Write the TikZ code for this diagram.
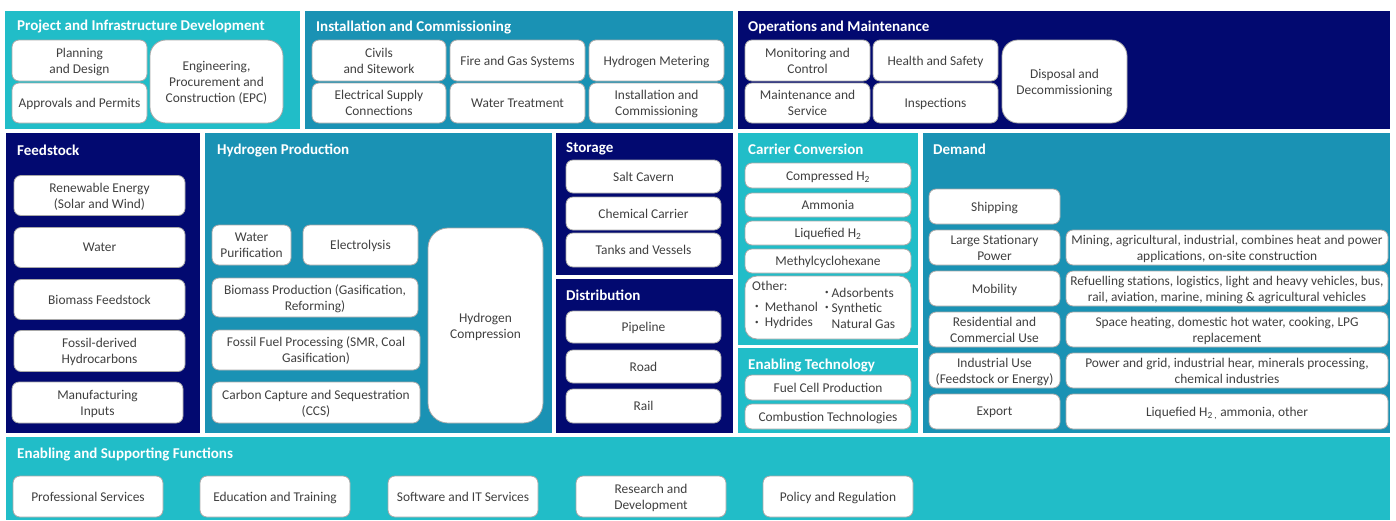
\documentclass[tikz,border=0pt]{standalone}
\usepackage{fontspec}
\setmainfont{Carlito}
\usepackage{tikz}
\usepackage{xcolor}
\definecolor{lightteal}{RGB}{33,189,200}
\definecolor{midteal}{RGB}{26,146,180}
\definecolor{navy}{RGB}{2,9,112}
\definecolor{tileline}{RGB}{168,168,168}
\definecolor{tiletext}{RGB}{64,64,64}

\begin{document}
\begin{tikzpicture}[x=1pt, y=-1pt,
    tile/.style={draw=tileline, line width=0.8pt, fill=white, rounded corners=7pt,
        text=tiletext, align=center, inner sep=0pt, text depth=0pt,
        font=\fontsize{13.4}{16}\selectfont},
    bigtile/.style={tile, rounded corners=16pt},
    note/.style={text=tiletext, inner sep=0pt, anchor=west, align=left,
        font=\fontsize{13.4}{15.5}\selectfont},
    title/.style={text=white, inner sep=0pt, anchor=west,
        font=\bfseries\fontsize{15}{17}\selectfont}]
        \useasboundingbox (0, 0) rectangle (1396, 520);
        % panels
        \path[fill=lightteal] (5, 11) rectangle (300, 129);
        \path[fill=midteal] (305, 11) rectangle (733, 129);
        \path[fill=navy] (738, 11) rectangle (1390, 129);
        \path[fill=navy] (6, 133) rectangle (200, 433);
        \path[fill=midteal] (205, 133) rectangle (552, 433);
        \path[fill=navy] (556, 133) rectangle (733, 275);
        \path[fill=navy] (556, 279) rectangle (733, 433);
        \path[fill=lightteal] (738, 133) rectangle (918, 345);
        \path[fill=lightteal] (738, 348) rectangle (918, 433);
        \path[fill=midteal] (923, 133) rectangle (1390, 433);
        \path[fill=lightteal] (6, 437) rectangle (1390, 520);

        % titles
        \node[title] (tproj) at (17, 27) {Project and Infrastructure Development};
        \node[title] (tinst) at (316, 27) {Installation and Commissioning};
        \node[title] (tom) at (748, 27) {Operations and Maintenance};
        \node[title] (tfeed) at (17, 150) {Feedstock};
        \node[title] (tprod) at (217, 150) {Hydrogen Production};
        \node[title] (tstor) at (566, 149) {Storage};
        \node[title] (tdist) at (566, 295) {Distribution};
        \node[title] (tcarr) at (748, 149) {Carrier Conversion};
        \node[title] (tentech) at (748, 365) {Enabling Technology};
        \node[title] (tdem) at (933, 149) {Demand};
        \node[title] (tesf) at (17, 454) {Enabling and Supporting Functions};

        % project and infrastructure development
        \node[tile, minimum width=135, minimum height=41] (plan) at (79.5, 60.5) {Planning\\and Design};
        \node[tile, minimum width=135, minimum height=40] (appr) at (79.5, 103) {Approvals and Permits};
        \node[bigtile, minimum width=133, minimum height=83] (epc) at (216.5, 81.5) {Engineering,\\Procurement and\\Construction (EPC)};

        % installation and commissioning
        \node[tile, minimum width=134, minimum height=41] (civ) at (379, 60.5) {Civils\\and Sitework};
        \node[tile, minimum width=135, minimum height=41] (fire) at (517.5, 60.5) {Fire and Gas Systems};
        \node[tile, minimum width=135, minimum height=41] (meter) at (656.5, 60.5) {Hydrogen Metering};
        \node[tile, minimum width=134, minimum height=40] (elec) at (379, 103) {Electrical Supply\\Connections};
        \node[tile, minimum width=135, minimum height=40] (wtreat) at (517.5, 103) {Water Treatment};
        \node[tile, minimum width=135, minimum height=40] (icom) at (656.5, 103) {Installation and\\Commissioning};

        % operations and maintenance
        \node[tile, minimum width=125, minimum height=41] (mon) at (807.5, 60.5) {Monitoring and\\Control};
        \node[tile, minimum width=125, minimum height=41] (hs) at (935.5, 60.5) {Health and Safety};
        \node[tile, minimum width=125, minimum height=40] (maint) at (807.5, 103) {Maintenance and\\Service};
        \node[tile, minimum width=125, minimum height=40] (insp) at (935.5, 103) {Inspections};
        \node[bigtile, minimum width=125, minimum height=83] (disp) at (1064.5, 81.5) {Disposal and\\Decommissioning};

        % feedstock
        \node[tile, minimum width=171, minimum height=40] (ren) at (99.5, 195.5) {Renewable Energy\\(Solar and Wind)};
        \node[tile, minimum width=171, minimum height=40] (fwat) at (99.5, 247.5) {Water};
        \node[tile, minimum width=171, minimum height=40] (bio) at (99.5, 299.5) {Biomass Feedstock};
        \node[tile, minimum width=171, minimum height=41] (foss) at (99.5, 351) {Fossil-derived\\Hydrocarbons};
        \node[tile, minimum width=171, minimum height=41] (manu) at (97.5, 402.5) {Manufacturing\\Inputs};

        % hydrogen production
        \node[tile, minimum width=79, minimum height=40] (wpur) at (251.5, 245) {Water\\Purification};
        \node[tile, minimum width=115, minimum height=40] (elys) at (360.5, 245) {Electrolysis};
        \node[tile, minimum width=206, minimum height=39] (biop) at (315, 297.5) {Biomass Production (Gasification,\\Reforming)};
        \node[tile, minimum width=208, minimum height=40] (ffp) at (316, 350) {Fossil Fuel Processing (SMR, Coal\\Gasification)};
        \node[tile, minimum width=208, minimum height=41] (ccs) at (316, 402.5) {Carbon Capture and Sequestration\\(CCS)};
        \node[tile, rounded corners=20pt, minimum width=115, minimum height=195] (comp) at (485.5, 325.5) {Hydrogen\\Compression};

        % storage and distribution
        \node[tile, minimum width=155, minimum height=33] (salt) at (643.5, 176.5) {Salt Cavern};
        \node[tile, minimum width=155, minimum height=33] (chem) at (643.5, 213.5) {Chemical Carrier};
        \node[tile, minimum width=155, minimum height=34] (tank) at (643.5, 250) {Tanks and Vessels};
        \node[tile, minimum width=155, minimum height=32] (pipe) at (643.5, 327) {Pipeline};
        \node[tile, minimum width=155, minimum height=33] (road) at (643.5, 366.5) {Road};
        \node[tile, minimum width=155, minimum height=34] (rail) at (643.5, 406) {Rail};

        % carrier conversion
        \node[tile, minimum width=166, minimum height=25] (cmp) at (828, 175.5) {Compressed H\textsubscript{2}};
        \node[tile, minimum width=166, minimum height=24] (amm) at (828, 205) {Ammonia};
        \node[tile, minimum width=166, minimum height=24] (liq) at (828, 233) {Liquefied H\textsubscript{2}};
        \node[tile, minimum width=166, minimum height=24] (mch) at (828, 261) {Methylcyclohexane};
        \node[tile, rounded corners=12pt, minimum width=166, minimum height=63] (oth) at (828, 307.5) {};
        \node[note] (othl) at (752, 286) {Other:};
        \node[note] (othm) at (755, 315.5) {\raisebox{0.2em}{\fontsize{7}{7}\selectfont\textbullet}\ \ Methanol\\\raisebox{0.2em}{\fontsize{7}{7}\selectfont\textbullet}\ \ Hydrides};
        \node[note] (othr) at (825, 308) {\raisebox{0.2em}{\fontsize{7}{7}\selectfont\textbullet}\ Adsorbents\\\raisebox{0.2em}{\fontsize{7}{7}\selectfont\textbullet}\ Synthetic\\\hphantom{\fontsize{7}{7}\selectfont\textbullet}\ Natural Gas};

        % enabling technology
        \node[tile, minimum width=166, minimum height=25] (fc) at (828, 387.5) {Fuel Cell Production};
        \node[tile, minimum width=166, minimum height=25] (comb) at (828, 416.5) {Combustion Technologies};

        % demand
        \node[tile, minimum width=131, minimum height=35] (ship) at (994.5, 206.5) {Shipping};
        \node[tile, minimum width=131, minimum height=35] (lsp) at (994.5, 247.5) {Large Stationary\\Power};
        \node[tile, minimum width=131, minimum height=35] (mob) at (994.5, 288.5) {Mobility};
        \node[tile, minimum width=131, minimum height=35] (res) at (994.5, 329.5) {Residential and\\Commercial Use};
        \node[tile, minimum width=131, minimum height=35] (ind) at (994.5, 370.5) {Industrial Use\\(Feedstock or Energy)};
        \node[tile, minimum width=131, minimum height=35] (exp) at (994.5, 411.5) {Export};
        \node[tile, minimum width=322, minimum height=35] (lspd) at (1227, 247.5) {Mining, agricultural, industrial, combines heat and power\\applications, on-site construction};
        \node[tile, minimum width=322, minimum height=35] (mobd) at (1227, 288.5) {Refuelling stations, logistics, light and heavy vehicles, bus,\\rail, aviation, marine, mining \& agricultural vehicles};
        \node[tile, minimum width=322, minimum height=35] (resd) at (1227, 329.5) {Space heating, domestic hot water, cooking, LPG\\replacement};
        \node[tile, minimum width=322, minimum height=35] (indd) at (1227, 370.5) {Power and grid, industrial hear, minerals processing,\\chemical industries};
        \node[tile, minimum width=322, minimum height=35] (expd) at (1227, 411.5) {Liquefied H\textsubscript{2 ,} ammonia, other};

        % enabling and supporting functions
        \node[tile, minimum width=150, minimum height=41] (prof) at (88, 496.5) {Professional Services};
        \node[tile, minimum width=150, minimum height=41] (edu) at (275, 496.5) {Education and Training};
        \node[tile, minimum width=150, minimum height=41] (soft) at (463, 496.5) {Software and IT Services};
        \node[tile, minimum width=150, minimum height=41] (rnd) at (651, 496.5) {Research and\\Development};
        \node[tile, minimum width=150, minimum height=41] (pol) at (838, 496.5) {Policy and Regulation};
    \end{tikzpicture}
\end{document}
